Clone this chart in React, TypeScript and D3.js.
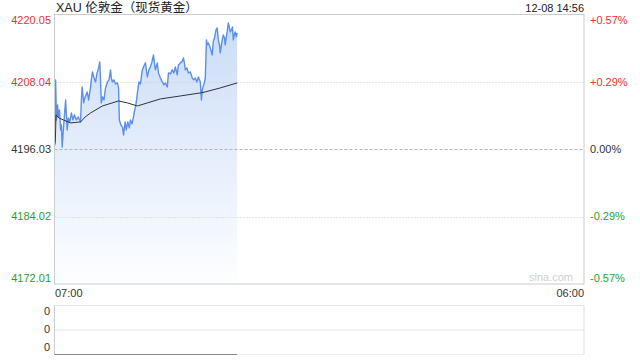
import React from "react";
import * as d3 from "d3";

// ---- data ----
const priceMinutes = [1,3,5,8,10,13,16,18,20,23,26,29,31,33,36,40,44,48,52,57,62,68,70,72,76,79,85,89,94,96,99,103,107,111,115,118,120,122,125,129,133,138,142,146,148,151,155,159,164,167,169,173,177,180,184,187,191,195,198,202,206,208,211,214,216,220,224,227,229,233,237,240,242,246,250,254,258,260,263,268,271,276,281,285,289,294,297,302,307,311,315,320,323,328,332,336,339,341,345,349,354,359,363,367,371,375,380,383,385,391,393,396,398,401,406,411,414,417,421,424,427,430,432,435,437,440,443,445,448,450,453,456,458,461,464,466,469,471,474,476];
const prices = [4200.36,4208.39,4201.25,4203.93,4201.79,4203.04,4199.47,4200.36,4196.44,4199.47,4202.15,4204.82,4202.15,4199.47,4201.61,4200.90,4202.50,4201.25,4202.15,4201.25,4201.79,4200.90,4204.82,4207.14,4204.29,4205.18,4206.25,4204.82,4207.14,4208.39,4209.81,4208.74,4208.03,4209.63,4210.53,4211.60,4208.39,4204.29,4205.36,4204.82,4206.96,4208.03,4208.39,4210.17,4208.74,4208.03,4208.39,4207.67,4207.85,4206.96,4201.25,4200.36,4200.01,4198.58,4200.90,4199.47,4200.90,4199.83,4201.25,4200.54,4201.79,4202.68,4203.57,4204.82,4206.07,4208.03,4207.67,4209.28,4210.17,4210.88,4211.42,4209.81,4208.92,4210.17,4210.70,4211.60,4212.84,4211.60,4210.17,4211.42,4209.63,4208.74,4208.03,4207.50,4207.85,4207.14,4209.63,4209.46,4210.17,4209.63,4210.70,4209.28,4211.06,4211.42,4211.60,4212.31,4211.24,4210.17,4210.53,4209.63,4209.81,4208.74,4208.39,4208.74,4208.03,4208.92,4208.03,4204.82,4206.60,4208.03,4208.74,4215.52,4214.63,4214.98,4214.09,4212.84,4215.34,4215.88,4217.30,4217.66,4215.52,4214.63,4213.20,4214.63,4215.52,4216.41,4215.88,4214.63,4216.23,4216.95,4218.55,4217.66,4216.95,4217.30,4217.84,4215.52,4216.59,4216.95,4216.06,4216.77];
const avgMinutes = [0,2,4,12,23,42,68,80,94,125,167,190,216,242,276,328,380,393,432,476];
const avgPrices = [4196.6,4197.2,4202.15,4201.61,4201.25,4200.72,4200.90,4201.79,4202.50,4203.75,4204.64,4204.29,4203.75,4204.29,4205.00,4205.53,4206.07,4206.25,4206.96,4207.85];
const priceTicks = [4172.01, 4184.02, 4196.03, 4208.04, 4220.05];
const pctTicks = ["-0.57%", "-0.29%", "0.00%", "+0.29%", "+0.57%"];
const timeLabels = ["07:00", "06:00"];
const volLabels = ["0", "0", "0"];
const title = "XAU 伦敦金（现货黄金）";
const dateLabel = "12-08 14:56";
const totalMinutes = 1380;
const prevClose = 4196.03;

const FONT = "'Liberation Sans', Arial, 'Noto Sans CJK SC', sans-serif";
const RED = "#f23030";
const GREEN = "#1fa21f";
const DARK = "#333";

export default function App() {
  const left = 54.5, right = 584, top = 14.5, bottom = 284;
  const x = d3.scaleLinear().domain([0, totalMinutes]).range([left, right]);
  const y = d3.scaleLinear().domain([priceTicks[0], priceTicks[4]]).range([bottom, top]);
  const pts = priceMinutes.map((m, i) => [m, prices[i]] as [number, number]);
  const avgPts = avgMinutes.map((m, i) => [m, avgPrices[i]] as [number, number]);
  const line = d3.line<[number, number]>().x(d => x(d[0])).y(d => y(d[1]));
  const area = d3.area<[number, number]>().x(d => x(d[0])).y0(bottom).y1(d => y(d[1]));
  const colorFor = (v: number) => (Math.abs(v - prevClose) < 0.001 ? DARK : v > prevClose ? RED : GREEN);
  const labelY = (v: number, i: number) => {
    const yy = y(v);
    if (i === 0) return yy - 6;
    if (i === priceTicks.length - 1) return yy + 6;
    return yy;
  };
  // volume panel
  const vTop = 305.5, vBottom = 354.5;
  const vy = d3.scaleLinear().domain([0, 2]).range([vBottom, vTop]);
  const lastX = x(priceMinutes[priceMinutes.length - 1]);

  return (
    <div style={{ position: "absolute", left: 0, top: 0 }}>
      <svg width={640} height={360} style={{ display: "block", fontFamily: FONT }}>
        <defs>
          <linearGradient id="fillGrad" gradientUnits="userSpaceOnUse" x1="0" y1={top} x2="0" y2={bottom}>
            <stop offset="0" stopColor="#c8dbf7" />
            <stop offset="0.5" stopColor="#e4edfb" />
            <stop offset="1" stopColor="#fdfeff" />
          </linearGradient>
        </defs>
        <rect width={640} height={360} fill="#fff" />
        {/* title */}
        <text x={56} y={12} fontSize={12.5} fill="#222">{title}</text>
        <text x={584} y={12} fontSize={11} fill="#222" textAnchor="end">{dateLabel}</text>

        {/* area + lines */}
        <path d={area(pts) || ""} fill="url(#fillGrad)" />
        {/* grid */}
        {priceTicks.slice(1, 4).map((v, i) => (
          <line key={i} x1={left} x2={right} y1={Math.round(y(v)) + 0.5} y2={Math.round(y(v)) + 0.5}
            stroke={v === prevClose ? "#b4b4b4" : "#cdcdcd"} strokeDasharray={v === prevClose ? "3,2" : "1,2"} />
        ))}
        <path d={line(pts) || ""} fill="none" stroke="#5a8ef0" strokeWidth={1.4} strokeLinejoin="round" />
        <path d={line(avgPts) || ""} fill="none" stroke="#333" strokeWidth={1} />
        {/* border */}
        <rect x={left} y={top} width={right - left} height={bottom - top} fill="none" stroke="#ccc" />
        <text x={573} y={281} fontSize={11} fill="#d0d0d0" textAnchor="end">sina.com</text>

        {/* axis labels */}
        {priceTicks.map((v, i) => (
          <text key={"l" + i} x={51} y={labelY(v, i)} dy="0.35em" fontSize={11} fill={colorFor(v)} textAnchor="end">
            {v.toFixed(2)}
          </text>
        ))}
        {pctTicks.map((t, i) => (
          <text key={"r" + i} x={590} y={labelY(priceTicks[i], i)} dy="0.35em" fontSize={11} fill={colorFor(priceTicks[i])}>
            {t}
          </text>
        ))}
        <text x={55} y={297} fontSize={11} fill={DARK}>{timeLabels[0]}</text>
        <text x={584} y={297} fontSize={11} fill={DARK} textAnchor="end">{timeLabels[1]}</text>

        {/* volume panel */}
        {[2, 1].map((v) => (
          <line key={v} x1={left} x2={right} y1={vy(v)} y2={vy(v)} stroke="#c8c8c8" strokeDasharray="1,1" />
        ))}
        <line x1={left} x2={left} y1={vTop} y2={vBottom} stroke="#ccc" />
        <line x1={right} x2={right} y1={vTop} y2={vBottom} stroke="#ddd" />
        <line x1={left} x2={right} y1={vBottom} y2={vBottom} stroke="#ddd" strokeDasharray="1,1" />
        <line x1={left} x2={lastX} y1={vBottom} y2={vBottom} stroke="#888" />
        {volLabels.map((t, i) => (
          <text key={"v" + i} x={50} y={[311, 329, 347][i]} dy="0.35em" fontSize={11} fill={DARK} textAnchor="end">{t}</text>
        ))}
      </svg>
    </div>
  );
}
